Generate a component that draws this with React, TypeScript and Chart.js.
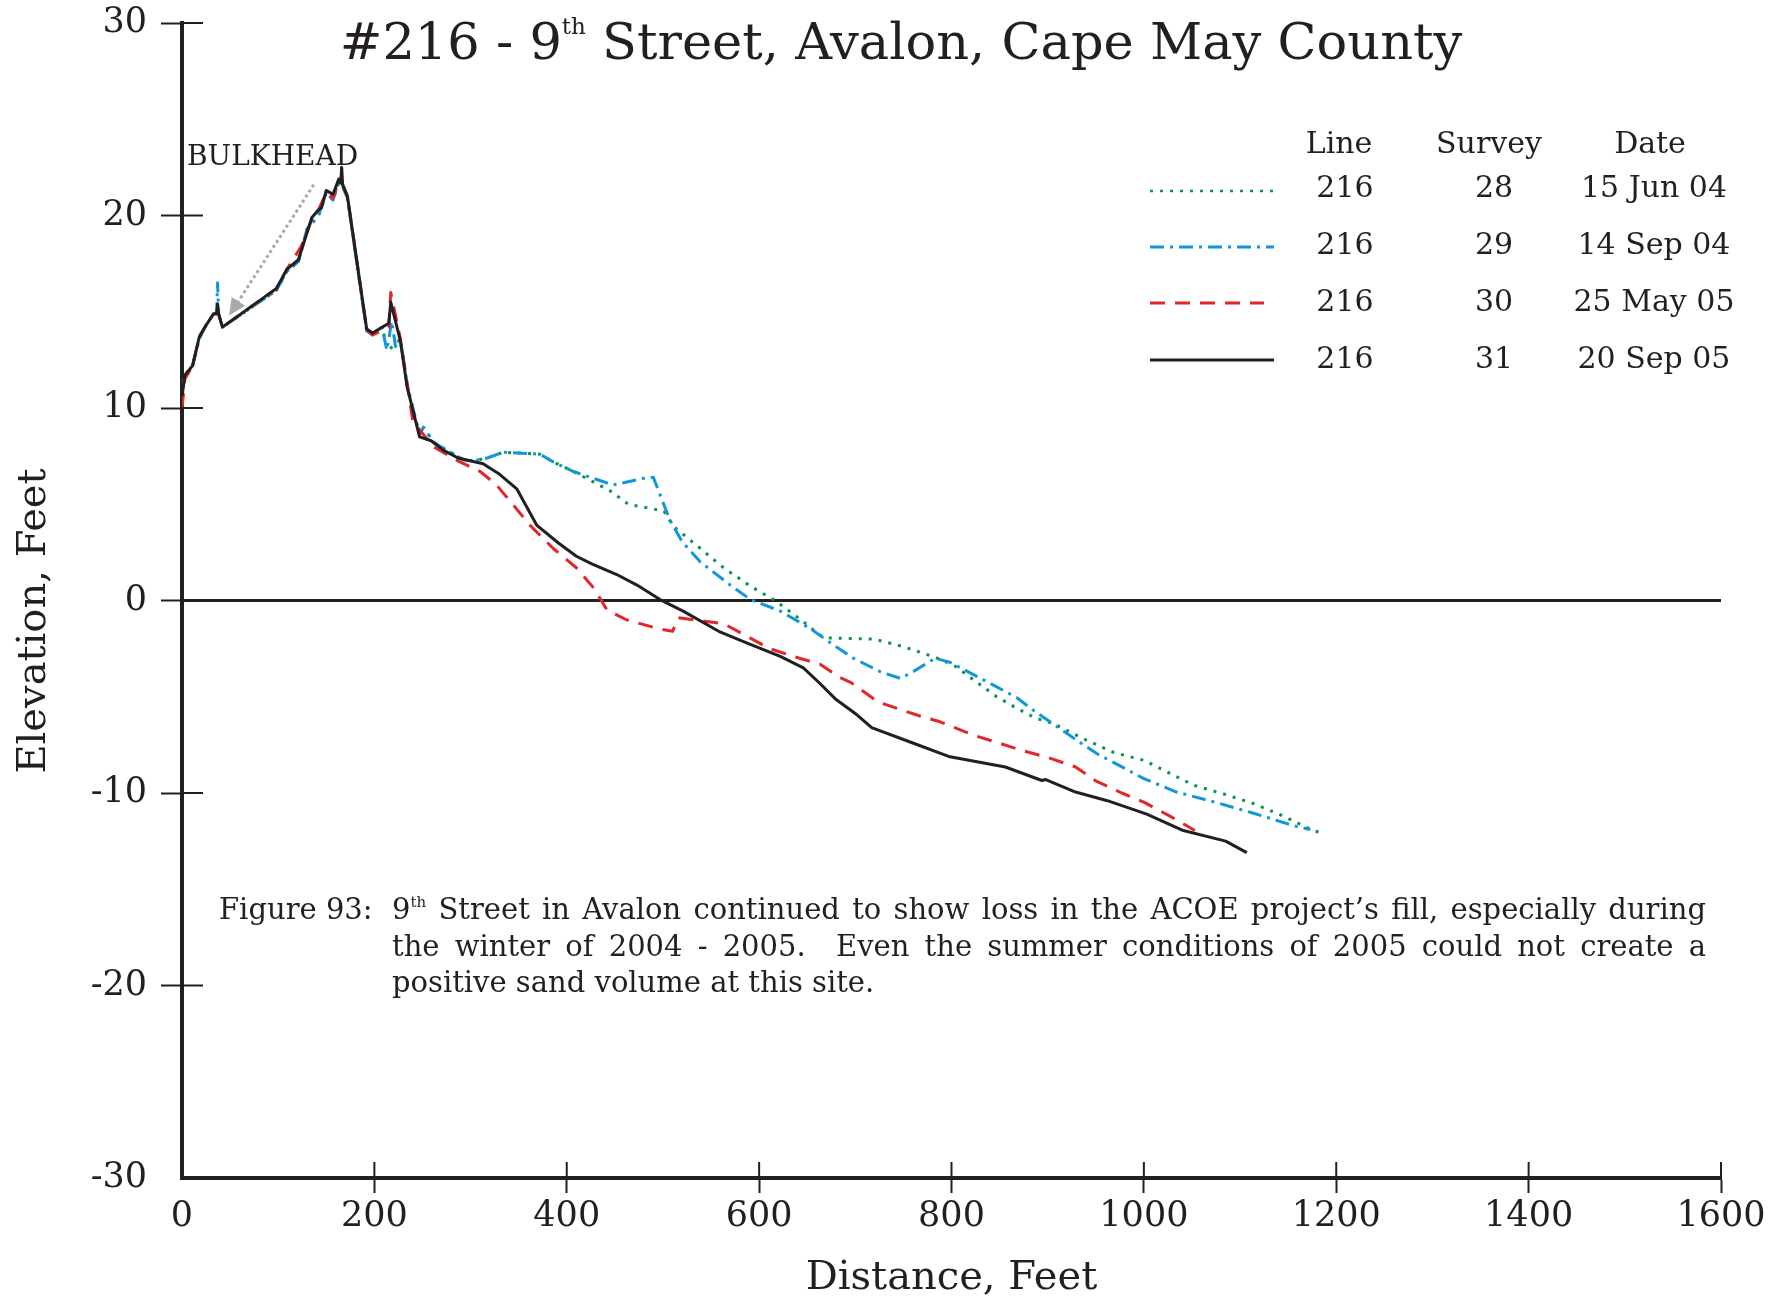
import React, { useEffect, useRef } from "react";
import { Chart, registerables } from "chart.js";

Chart.register(...registerables);

// ---------- data ----------
const xTickValues = [0, 200, 400, 600, 800, 1000, 1200, 1400, 1600];
const yTickValues = [-30, -20, -10, 0, 10, 20, 30];

// Survey 31, 20 Sep 05 (solid black)
const s31Dist = [0, 3, 11, 18, 25, 33, 36, 37, 38, 42, 98, 109, 121, 135, 142, 145, 150, 157, 163, 165, 166, 167, 172, 192, 198, 215, 217, 227, 234, 247, 259, 272, 287, 313, 329, 348, 369, 391, 410, 426, 452, 473, 497, 521, 558, 587, 622, 646, 663, 679, 702, 717, 757, 797, 856, 894, 898, 929, 962, 1003, 1041, 1085, 1107];
const s31Elev = [10.6, 11.7, 12.2, 13.7, 14.3, 14.9, 14.9, 15.4, 14.9, 14.2, 16.2, 17.2, 17.7, 19.9, 20.3, 20.4, 21.3, 21.1, 21.9, 21.7, 22.5, 21.6, 21.0, 14.1, 13.9, 14.4, 15.5, 13.5, 11.1, 8.5, 8.3, 7.8, 7.4, 7.1, 6.6, 5.8, 3.9, 3.0, 2.3, 1.9, 1.35, 0.8, 0.05, -0.55, -1.6, -2.2, -2.9, -3.5, -4.3, -5.1, -5.95, -6.6, -7.35, -8.1, -8.65, -9.35, -9.3, -9.95, -10.4, -11.1, -11.95, -12.5, -13.1];

// Survey 30, 25 May 05 (red dashed)
const s30Dist = [0, 3, 11, 18, 25, 33, 38, 42, 98, 109, 124, 135, 142, 150, 157, 163, 167, 172, 192, 198, 215, 217, 227, 235, 240, 261, 289, 310, 327, 362, 386, 410, 428, 442, 462, 494, 510, 516, 532, 563, 587, 611, 642, 663, 684, 695, 719, 731, 764, 788, 823, 849, 874, 903, 929, 951, 977, 1001, 1027, 1053];
const s30Elev = [10.0, 11.5, 12.2, 13.7, 14.3, 14.9, 14.9, 14.2, 16.2, 17.2, 18.4, 19.8, 20.3, 21.2, 20.9, 21.8, 21.6, 21.0, 14.1, 13.8, 14.2, 16.0, 13.6, 11.0, 9.3, 8.0, 7.2, 6.7, 6.0, 3.9, 2.7, 1.7, 0.65, -0.5, -1.0, -1.45, -1.6, -0.9, -1.0, -1.2, -1.85, -2.5, -3.0, -3.3, -4.0, -4.25, -5.1, -5.4, -5.95, -6.3, -7.0, -7.4, -7.8, -8.2, -8.65, -9.4, -10.0, -10.5, -11.2, -11.95];

// Survey 29, 14 Sep 04 (blue dash-dot)
const s29Dist = [0, 3, 11, 18, 25, 33, 36, 37, 38, 42, 98, 109, 121, 130, 142, 150, 157, 163, 167, 172, 192, 198, 208, 213, 218, 222, 227, 234, 247, 251, 262, 293, 303, 317, 334, 372, 386, 407, 448, 480, 490, 507, 520, 539, 570, 591, 622, 653, 677, 698, 726, 747, 760, 783, 798, 840, 868, 885, 927, 951, 1000, 1034, 1072, 1114, 1156, 1173];
const s29Elev = [10.8, 11.7, 12.2, 13.6, 14.3, 14.9, 14.9, 16.5, 14.9, 14.2, 16.1, 17.1, 17.6, 19.3, 20.0, 21.2, 20.8, 21.7, 21.5, 20.9, 14.0, 13.8, 14.2, 13.0, 14.5, 13.2, 13.6, 11.2, 8.6, 9.0, 8.2, 7.3, 7.25, 7.4, 7.7, 7.6, 7.2, 6.7, 6.0, 6.35, 6.4, 4.2, 3.05, 2.0, 0.8, 0.05, -0.55, -1.45, -2.3, -3.0, -3.7, -4.05, -3.7, -3.0, -3.2, -4.3, -5.05, -5.7, -7.15, -7.95, -9.25, -9.95, -10.45, -11.05, -11.7, -11.9];

// Survey 28, 15 Jun 04 (green dotted)
const s28Dist = [0, 3, 11, 18, 25, 33, 38, 42, 98, 109, 121, 130, 142, 150, 157, 163, 167, 172, 192, 198, 208, 214, 222, 227, 234, 247, 251, 262, 293, 303, 317, 334, 372, 386, 407, 445, 464, 501, 511, 539, 563, 591, 618, 646, 663, 674, 719, 750, 771, 783, 802, 821, 847, 868, 887, 906, 938, 969, 1000, 1020, 1052, 1083, 1114, 1145, 1176, 1187];
const s28Elev = [10.8, 11.7, 12.2, 13.6, 14.3, 14.9, 14.9, 14.2, 16.1, 17.1, 17.6, 19.3, 20.0, 21.2, 20.8, 21.7, 21.5, 20.9, 14.0, 13.8, 14.2, 13.0, 13.3, 13.6, 11.2, 8.6, 9.0, 8.2, 7.3, 7.25, 7.4, 7.7, 7.6, 7.2, 6.7, 5.7, 5.0, 4.65, 3.85, 2.7, 1.7, 0.75, -0.05, -1.1, -1.8, -1.95, -2.0, -2.4, -2.75, -2.95, -3.35, -4.05, -5.0, -5.6, -6.1, -6.4, -7.2, -7.9, -8.3, -8.8, -9.6, -10.05, -10.55, -11.2, -11.95, -12.1];

// Legend table
const legendLines = ["216", "216", "216", "216"];
const legendSurveys = ["28", "29", "30", "31"];
const legendDates = ["15 Jun 04", "14 Sep 04", "25 May 05", "20 Sep 05"];

// Bulkhead arrow (data units: distance, elevation)
const arrowTail = [137, 21.6];
const arrowHead = [49, 14.8];

// ---------- style ----------
const FONT = '"DejaVu Serif", serif';
const INK = "#231F20";
const RED = "#E2272B";
const BLUE = "#1296DB";
const GREEN = "#0A9447";

const W = 1786;
const H = 1301;

const legendRowY = [191, 247, 303, 360];
const legendTextY = [186, 243, 300, 357];

const innerTicks = {
  id: "innerTicks",
  afterDraw(chart: any) {
    const { ctx, chartArea: a, scales } = chart;
    const x = scales.x;
    const y = scales.y;
    ctx.save();
    ctx.strokeStyle = INK;
    ctx.lineWidth = 2;
    ctx.beginPath();
    y.ticks.forEach((t: any) => {
      if (t.value === -30) return;
      const py = y.getPixelForValue(t.value);
      ctx.moveTo(a.left, py);
      ctx.lineTo(a.left + 21, py);
    });
    x.ticks.forEach((t: any) => {
      if (t.value === 0) return;
      const px = x.getPixelForValue(t.value);
      ctx.moveTo(px, a.bottom);
      ctx.lineTo(px, a.bottom - 16);
    });
    ctx.stroke();
    ctx.restore();
  },
};

const arrowPlugin = {
  id: "bulkheadArrow",
  afterDatasetsDraw(chart: any) {
    const { ctx, scales } = chart;
    const x = scales.x;
    const y = scales.y;
    const x1 = x.getPixelForValue(arrowTail[0]);
    const y1 = y.getPixelForValue(arrowTail[1]);
    const x2 = x.getPixelForValue(arrowHead[0]);
    const y2 = y.getPixelForValue(arrowHead[1]);
    const ang = Math.atan2(y2 - y1, x2 - x1);
    const headLen = 17;
    const headW = 8;
    const bx = x2 - headLen * Math.cos(ang);
    const by = y2 - headLen * Math.sin(ang);
    ctx.save();
    ctx.strokeStyle = "#A6A8AB";
    ctx.lineWidth = 3;
    ctx.setLineDash([3, 3]);
    ctx.beginPath();
    ctx.moveTo(x1, y1);
    ctx.lineTo(bx, by);
    ctx.stroke();
    ctx.setLineDash([]);
    ctx.fillStyle = "#A6A8AB";
    ctx.beginPath();
    ctx.moveTo(x2, y2);
    ctx.lineTo(bx + headW * Math.sin(ang), by - headW * Math.cos(ang));
    ctx.lineTo(bx - headW * Math.sin(ang), by + headW * Math.cos(ang));
    ctx.closePath();
    ctx.fill();
    ctx.restore();
  },
};

const legendSamples = {
  id: "legendSamples",
  afterDraw(chart: any) {
    const { ctx } = chart;
    // datasets are ordered 31,30,29,28 ; legend rows are 28,29,30,31
    const rows = [3, 2, 1, 0];
    ctx.save();
    rows.forEach((di, r) => {
      const ds = chart.data.datasets[di];
      const yy = legendRowY[r];
      ctx.strokeStyle = ds.borderColor;
      ctx.lineWidth = di === 3 ? 2.5 : 3;
      ctx.setLineDash(ds.borderDash || []);
      ctx.beginPath();
      ctx.moveTo(1150, yy);
      ctx.lineTo(di === 1 ? 1264 : 1274, yy);
      ctx.stroke();
    });
    ctx.restore();
  },
};

const toPts = (d: number[], e: number[]) => d.map((v, i) => ({ x: v, y: e[i] }));

const abs = (o: any): React.CSSProperties => ({ position: "absolute", whiteSpace: "nowrap", ...o });

const zeroPad = (s: any) => {
  s.paddingTop = 0;
  s.paddingBottom = 0;
  s.paddingLeft = 0;
  s.paddingRight = 0;
};

export default function App() {
  const ref = useRef<HTMLCanvasElement>(null);

  useEffect(() => {
    const chart = new Chart(ref.current as HTMLCanvasElement, {
      type: "line",
      data: {
        datasets: [
          { label: "31", data: toPts(s31Dist, s31Elev), borderColor: INK, borderWidth: 3, order: 0 } as any,
          { label: "30", data: toPts(s30Dist, s30Elev), borderColor: RED, borderWidth: 3, borderDash: [15, 10], order: 1 },
          { label: "29", data: toPts(s29Dist, s29Elev), borderColor: BLUE, borderWidth: 3, borderDash: [14, 6, 3, 6], order: 2 },
          { label: "28", data: toPts(s28Dist, s28Elev), borderColor: GREEN, borderWidth: 3, borderDash: [3, 7], order: 3 },
        ],
      },
      options: {
        animation: false,
        responsive: false,
        devicePixelRatio: 1,
        events: [],
        layout: { padding: { top: 23, right: 65, left: 0, bottom: 0 } },
        elements: {
          point: { radius: 0 },
          line: { tension: 0, borderJoinStyle: "round", borderCapStyle: "butt" },
        },
        plugins: { legend: { display: false }, tooltip: { enabled: false }, title: { display: false } },
        scales: {
          x: {
            type: "linear",
            min: 0,
            max: 1600,
            afterBuildTicks: (s: any) => {
              s.ticks = xTickValues.map((v) => ({ value: v }));
            },
            afterFit: (s: any) => {
              s.height = 123;
              zeroPad(s);
            },
            grid: {
              drawOnChartArea: false,
              tickLength: 15,
              tickWidth: 2,
              tickColor: (c: any) => (c.tick && c.tick.value === 0 ? "rgba(0,0,0,0)" : INK),
            },
            border: { color: INK, width: 4 },
            ticks: {
              font: { family: FONT, size: 35 },
              color: INK,
              padding: 3,
              maxRotation: 0,
              autoSkip: false,
              callback: (v: any) => String(v),
            },
            title: {
              display: true,
              text: "Distance, Feet",
              font: { family: FONT, size: 40, lineHeight: 1.1 },
              color: INK,
              padding: { top: 0, bottom: 0 },
            },
          },
          y: {
            type: "linear",
            min: -30,
            max: 30,
            afterBuildTicks: (s: any) => {
              s.ticks = yTickValues.map((v) => ({ value: v }));
            },
            afterFit: (s: any) => {
              s.width = 182;
              zeroPad(s);
            },
            grid: {
              color: (c: any) => (c.tick && c.tick.value === 0 ? INK : "rgba(0,0,0,0)"),
              lineWidth: (c: any) => (c.tick && c.tick.value === 0 ? 3 : 1),
              tickLength: 21,
              tickWidth: 2,
              tickColor: (c: any) => (c.tick && c.tick.value === -30 ? "rgba(0,0,0,0)" : INK),
            },
            border: { color: INK, width: 4 },
            ticks: {
              font: { family: FONT, size: 35 },
              color: INK,
              padding: 14,
              callback: (v: any) => String(v),
            },
            title: { display: false },
          },
        },
      },
      plugins: [innerTicks, arrowPlugin, legendSamples],
    });
    return () => chart.destroy();
  }, []);

  const txt = (size: number): React.CSSProperties => ({
    fontFamily: FONT,
    fontSize: size,
    lineHeight: `${size}px`,
    color: INK,
  });

  return (
    <div style={{ position: "absolute", left: 0, top: 0, width: W, height: H, background: "#fff", overflow: "hidden" }}>
      <canvas ref={ref} width={W} height={H} style={{ position: "absolute", left: 0, top: 0, display: "block" }} />

      {/* Y axis title */}
      <div
        style={abs({
          left: 31 - 200,
          top: 621 - 20,
          width: 400,
          height: 40,
          textAlign: "center",
          transform: "rotate(-90deg)",
          transformOrigin: "50% 50%",
          ...txt(40),
        })}
      >
        Elevation, Feet
      </div>

      {/* Title */}
      <div style={abs({ left: 0, width: 1802, top: 16, textAlign: "center", ...txt(51) })}>
        #216 - 9<span style={{ fontSize: 23, position: "relative", top: -25 }}>th</span> Street, Avalon, Cape May County
      </div>

      {/* Bulkhead label */}
      <div style={abs({ left: 187, top: 142, ...txt(28) })}>BULKHEAD</div>

      {/* Legend header */}
      <div style={abs({ left: 1239, width: 200, top: 128, textAlign: "center", ...txt(30) })}>Line</div>
      <div style={abs({ left: 1389, width: 200, top: 128, textAlign: "center", ...txt(30) })}>Survey</div>
      <div style={abs({ left: 1550, width: 200, top: 128, textAlign: "center", ...txt(30) })}>Date</div>
      {legendLines.map((s, i) => (
        <div key={"l" + i} style={abs({ left: 1245, width: 200, top: legendTextY[i] - 14, textAlign: "center", ...txt(30) })}>{s}</div>
      ))}
      {legendSurveys.map((s, i) => (
        <div key={"s" + i} style={abs({ left: 1394, width: 200, top: legendTextY[i] - 14, textAlign: "center", ...txt(30) })}>{s}</div>
      ))}
      {legendDates.map((s, i) => (
        <div key={"d" + i} style={abs({ left: 1554, width: 200, top: legendTextY[i] - 14, textAlign: "center", ...txt(30) })}>{s}</div>
      ))}

      {/* Caption */}
      <div style={abs({ left: 219, top: 895, ...txt(29) })}>Figure 93:</div>
      <div
        style={{
          position: "absolute",
          left: 392,
          top: 895,
          width: 1314,
          textAlign: "justify",
          textAlignLast: "justify",
          ...txt(29),
        }}
      >
        9<span style={{ fontSize: 15, position: "relative", top: -12 }}>th</span> Street in Avalon continued to show loss in the ACOE project’s fill, especially during
      </div>
      <div
        style={{
          position: "absolute",
          left: 392,
          top: 932,
          width: 1314,
          textAlign: "justify",
          textAlignLast: "justify",
          ...txt(29),
        }}
      >
        the winter of 2004 - 2005.&nbsp; Even the summer conditions of 2005 could not create a
      </div>
      <div style={abs({ left: 392, top: 968, ...txt(29) })}>positive sand volume at this site.</div>
    </div>
  );
}
